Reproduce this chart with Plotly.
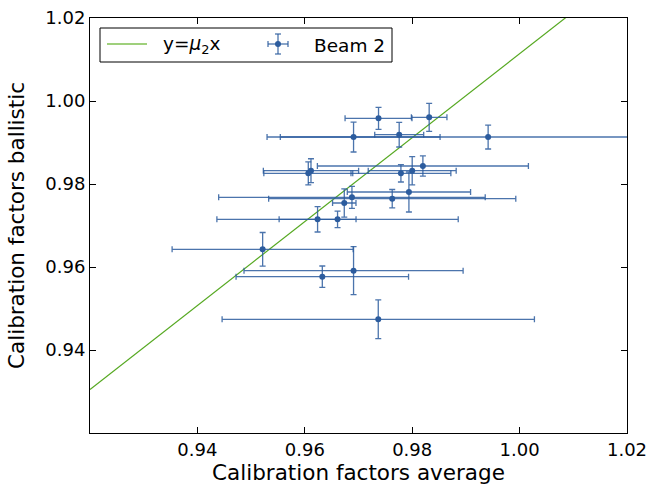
import plotly.graph_objects as go

# Beam 2 calibration factors
x_avg = [0.97373, 0.98316, 0.96908, 0.97758, 0.99414, 0.96115, 0.96065, 0.97790,
         0.98000, 0.98199, 0.97939, 0.97628, 0.96878, 0.96735, 0.96238, 0.96610,
         0.95215, 0.96908, 0.96326, 0.97368]
y_bal = [0.99583, 0.99607, 0.99132, 0.99188, 0.99132, 0.98320, 0.98258, 0.98258,
         0.98320, 0.98434, 0.97807, 0.97646, 0.97680, 0.97542, 0.97149, 0.97149,
         0.96426, 0.95911, 0.95767, 0.94740]
x_err = [0.00623, 0.00331, 0.01611, 0.00456, 0.03870, 0.00887, 0.00828, 0.00930,
         0.00819, 0.01965, 0.01148, 0.02301, 0.02482, 0.00218, 0.00716, 0.02247,
         0.01686, 0.02040, 0.01606, 0.02908]
y_err = [0.00265, 0.00337, 0.00361, 0.00296, 0.00289, 0.00289, 0.00277, 0.00210,
         0.00342, 0.00246, 0.00482, 0.00222, 0.00265, 0.00342, 0.00306, 0.00198,
         0.00405, 0.00578, 0.00257, 0.00467]
mu2 = 1.0114

x_range = [0.92, 1.02]
y_range = [0.92, 1.02]
x_ticks = [0.94, 0.96, 0.98, 1.00, 1.02]
y_ticks = [0.94, 0.96, 0.98, 1.00, 1.02]
legend_names = ["y=<i>μ</i><sub>2</sub>x", "Beam 2"]

blue = "#2c5c9e"
err_blue = "rgba(44,92,158,0.85)"
green = "#55a820"

W, H = 649, 485
ML, MR, MT, MB = 90, 22, 18, 52
PW, PH = W - ML - MR, H - MT - MB


def px(xp):
    return (xp - ML) / PW


def py(yp):
    return (H - MB - yp) / PH


fig = go.Figure()
fig.add_trace(go.Scatter(
    x=x_range, y=[mu2 * v for v in x_range], mode="lines",
    line=dict(color=green, width=1.2), name=legend_names[0], showlegend=False))
fig.add_trace(go.Scatter(
    x=x_avg, y=y_bal, mode="markers", name=legend_names[1], showlegend=False,
    marker=dict(color=blue, size=6),
    error_x=dict(type="data", array=x_err, color=err_blue, thickness=1.3, width=3),
    error_y=dict(type="data", array=y_err, color=err_blue, thickness=1.3, width=3)))

axis_common = dict(showline=True, linecolor="black", linewidth=1, mirror="allticks",
                   ticks="inside", ticklen=6, tickcolor="black", showgrid=False,
                   zeroline=False, tickfont=dict(size=18, color="black"),
                   tickformat=".2f")
fig.update_xaxes(range=x_range, tickvals=x_ticks,
                 title=dict(text="Calibration factors average", font=dict(size=21.5, color="black"), standoff=12),
                 **axis_common)
fig.update_yaxes(range=y_range, tickvals=y_ticks,
                 title=dict(text="Calibration factors ballistic", font=dict(size=21.5, color="black"), standoff=14),
                 **axis_common)

# ---- hand-drawn legend (matplotlib style) ----
def seg(a, b, c, d, color, width):
    return dict(type="line", xref="paper", yref="paper",
                x0=px(a), y0=py(b), x1=px(c), y1=py(d),
                line=dict(color=color, width=width), layer="above")


box_l, box_t, box_r, box_b = 100, 28, 392, 62
cy = 44
shapes = [dict(type="rect", xref="paper", yref="paper",
               x0=px(box_l), y0=py(box_b), x1=px(box_r), y1=py(box_t),
               line=dict(color="black", width=1), fillcolor="white", layer="above")]
shapes.append(seg(107, cy, 147, cy, "#7fc050", 1.5))
gcx, arm, cap = 278, 10, 3
for a, b, c, d in [(gcx - arm, cy, gcx + arm, cy), (gcx, cy - arm, gcx, cy + arm),
                   (gcx - arm, cy - cap, gcx - arm, cy + cap),
                   (gcx + arm, cy - cap, gcx + arm, cy + cap),
                   (gcx - cap, cy - arm, gcx + cap, cy - arm),
                   (gcx - cap, cy + arm, gcx + cap, cy + arm)]:
    shapes.append(seg(a, b, c, d, err_blue, 1.3))
shapes.append(dict(type="circle", xref="paper", yref="paper",
                   x0=px(gcx - 3), y0=py(cy + 3), x1=px(gcx + 3), y1=py(cy - 3),
                   line=dict(color=blue, width=0), fillcolor=blue, layer="above"))

annotations = [
    dict(text=legend_names[0], xref="paper", yref="paper", x=px(161), y=py(cy + 1),
         xanchor="left", yanchor="middle", showarrow=False, font=dict(size=18.5, color="black")),
    dict(text=legend_names[1], xref="paper", yref="paper", x=px(312), y=py(cy + 1),
         xanchor="left", yanchor="middle", showarrow=False, font=dict(size=18.5, color="black")),
]

fig.update_layout(
    width=W, height=H,
    margin=dict(l=ML, r=MR, t=MT, b=MB, autoexpand=False),
    paper_bgcolor="white", plot_bgcolor="white",
    font=dict(family="DejaVu Sans", color="black"),
    showlegend=False,
    shapes=shapes,
    annotations=annotations,
)

fig.write_html("out.html")
